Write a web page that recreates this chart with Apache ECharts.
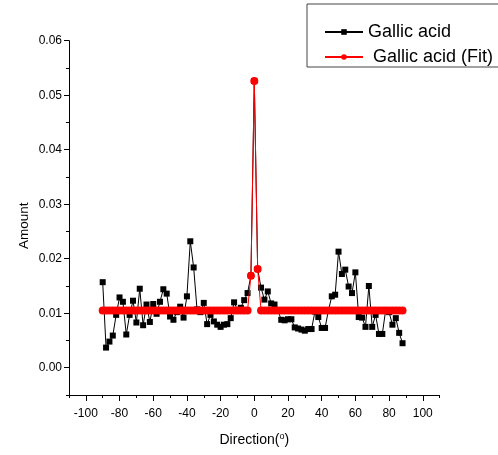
<!DOCTYPE html>
<html>
<head>
<meta charset="utf-8">
<script src="https://cdn.jsdelivr.net/npm/echarts@6/dist/echarts.min.js"></script>
<style>
  html, body { margin: 0; padding: 0; background: #fff; }
  #chart { width: 498px; height: 455px; }
</style>
</head>
<body>
<div id="chart"></div>
<script>
// Direction bins (degrees)
const directions = [
  -90, -88, -86, -84, -82, -80, -78, -76, -74, -72,
  -70, -68, -66, -64, -62, -60, -58, -56, -54, -52,
  -50, -48, -46, -44, -42, -40, -38, -36, -34, -32,
  -30, -28, -26, -24, -22, -20, -18, -16, -14, -12,
  -10, -8, -6, -4, -2, 0, 2, 4, 6, 8,
  10, 12, 14, 16, 18, 20, 22, 24, 26, 28,
  30, 32, 34, 36, 38, 40, 42, 44, 46, 48,
  50, 52, 54, 56, 58, 60, 62, 64, 66, 68,
  70, 72, 74, 76, 78, 80, 82, 84, 86, 88
];

// Measured amount per direction
const gallicAcid = [
  0.0157, 0.0037, 0.0048, 0.0059, 0.0097, 0.0129, 0.0121, 0.0061, 0.0097, 0.0123,
  0.0083, 0.0145, 0.0078, 0.0116, 0.0084, 0.0117, 0.0099, 0.0121, 0.0144, 0.0136,
  0.0094, 0.0088, 0.0102, 0.0112, 0.0092, 0.0131, 0.0232, 0.0184, 0.0107, 0.0102,
  0.0119, 0.0080, 0.0097, 0.0085, 0.0079, 0.0075, 0.0079, 0.0080, 0.0091, 0.0120,
  0.0106, 0.0110, 0.0124, 0.0137, 0.0169, 0.0526, 0.0181, 0.0147, 0.0125, 0.0140,
  0.0118, 0.0116, 0.0105, 0.0088, 0.0087, 0.0089, 0.0089, 0.0074, 0.0072, 0.0070,
  0.0068, 0.0071, 0.0071, 0.0103, 0.0093, 0.0073, 0.0073, 0.0105, 0.0131, 0.0134,
  0.0213, 0.0172, 0.0180, 0.0149, 0.0137, 0.0175, 0.0093, 0.0092, 0.0075, 0.0150,
  0.0075, 0.0097, 0.0062, 0.0062, 0.0106, 0.0102, 0.0079, 0.0091, 0.0064, 0.0045
];

// Fitted amount per direction
const gallicAcidFit = [
  0.0105, 0.0105, 0.0105, 0.0105, 0.0105, 0.0105, 0.0105, 0.0105, 0.0105, 0.0105,
  0.0105, 0.0105, 0.0105, 0.0105, 0.0105, 0.0105, 0.0105, 0.0105, 0.0105, 0.0105,
  0.0105, 0.0105, 0.0105, 0.0105, 0.0105, 0.0105, 0.0105, 0.0105, 0.0105, 0.0105,
  0.0105, 0.0105, 0.0105, 0.0105, 0.0105, 0.0105, 0.0105, 0.0105, 0.0105, 0.0105,
  0.0105, 0.0105, 0.0105, 0.0105, 0.0169, 0.0526, 0.0181, 0.0105, 0.0105, 0.0105,
  0.0105, 0.0105, 0.0105, 0.0105, 0.0105, 0.0105, 0.0105, 0.0105, 0.0105, 0.0105,
  0.0105, 0.0105, 0.0105, 0.0105, 0.0105, 0.0105, 0.0105, 0.0105, 0.0105, 0.0105,
  0.0105, 0.0105, 0.0105, 0.0105, 0.0105, 0.0105, 0.0105, 0.0105, 0.0105, 0.0105,
  0.0105, 0.0105, 0.0105, 0.0105, 0.0105, 0.0105, 0.0105, 0.0105, 0.0105, 0.0105
];

const xTickLabels = [-100, -80, -60, -40, -20, 0, 20, 40, 60, 80, 100];
const yTickLabels = [0.00, 0.01, 0.02, 0.03, 0.04, 0.05, 0.06];

const seriesNames = ['Gallic acid', 'Gallic acid (Fit)'];

const FONT = "'Liberation Sans', Arial, sans-serif";
const X_MIN = -110, X_MAX = 110;
const Y_MIN = -0.005, Y_MAX = 0.06;

const chart = echarts.init(document.getElementById('chart'), null, { renderer: 'canvas' });

const pairs = (ys) => directions.map((d, i) => [d, ys[i]]);

const option = {
  animation: false,
  backgroundColor: '#fff',
  grid: { left: 69, right: 58.4, top: 40.7, bottom: 60 },
  legend: {
    orient: 'vertical',
    left: 307,
    top: 4,
    padding: [18.5, 10, 0.5, 17],
    itemWidth: 38,
    itemHeight: 7,
    itemGap: 6,
    backgroundColor: '#fff',
    borderColor: '#444',
    borderWidth: 1,
    borderRadius: 0,
    data: seriesNames,
    textStyle: { fontFamily: FONT, fontSize: 18, color: '#000', lineHeight: 19 },
    formatter: (name) => (name === seriesNames[1] ? ' ' + name : name)
  },
  xAxis: [
    {
      type: 'value',
      min: X_MIN,
      max: X_MAX,
      interval: 10,
      name: 'Direction({sup|o})',
      nameLocation: 'middle',
      nameGap: 37,
      nameMoveOverlap: false,
      nameTextStyle: {
        fontFamily: FONT, fontSize: 14, color: '#000',
        rich: { sup: { fontFamily: FONT, fontSize: 9, color: '#000', verticalAlign: 'top', padding: [0, 0, 8, 0] } }
      },
      axisLine: { show: true, onZero: false, lineStyle: { color: '#000', width: 1 } },
      axisTick: { show: true, inside: false, length: 6, customValues: xTickLabels, lineStyle: { color: '#000' } },
      axisLabel: {
        customValues: xTickLabels,
        margin: 13,
        fontFamily: FONT, fontSize: 12, color: '#000',
        formatter: (v) => String(v)
      },
      splitLine: { show: false }
    },
    {
      // minor ticks every 10 degrees
      type: 'value',
      min: X_MIN,
      max: X_MAX,
      interval: 10,
      position: 'bottom',
      axisLine: { show: false, onZero: false },
      axisTick: { show: true, length: 3, lineStyle: { color: '#000' } },
      axisLabel: { show: false },
      splitLine: { show: false }
    }
  ],
  yAxis: [
    {
      type: 'value',
      min: Y_MIN,
      max: Y_MAX,
      interval: 0.005,
      name: 'Amount',
      nameLocation: 'middle',
      nameGap: 38,
      nameMoveOverlap: false,
      nameTextStyle: { fontFamily: FONT, fontSize: 13.5, color: '#000', padding: [0, 16, 0, 0] },
      axisLine: { show: true, onZero: false, lineStyle: { color: '#000', width: 1 } },
      axisTick: { show: true, inside: false, length: 5, customValues: yTickLabels, lineStyle: { color: '#000' } },
      axisLabel: {
        customValues: yTickLabels,
        margin: 7,
        fontFamily: FONT, fontSize: 12, color: '#000',
        formatter: (v) => v.toFixed(2)
      },
      splitLine: { show: false }
    },
    {
      // minor ticks every 0.005
      type: 'value',
      min: Y_MIN,
      max: Y_MAX,
      interval: 0.005,
      position: 'left',
      axisLine: { show: false, onZero: false },
      axisTick: { show: true, length: 3, lineStyle: { color: '#000' } },
      axisLabel: { show: false },
      splitLine: { show: false }
    }
  ],
  series: [
    {
      name: seriesNames[0],
      type: 'line',
      data: pairs(gallicAcid),
      symbol: 'rect',
      symbolSize: 6,
      showAllSymbol: true,
      lineStyle: { color: '#000', width: 1 },
      itemStyle: { color: '#000' },
      z: 2
    },
    {
      name: seriesNames[1],
      type: 'line',
      data: pairs(gallicAcidFit),
      symbol: 'circle',
      symbolSize: 8,
      showAllSymbol: true,
      lineStyle: { color: '#ff0000', width: 1 },
      itemStyle: { color: '#ff0000' },
      z: 3
    }
  ]
};

chart.setOption(option);
</script>
</body>
</html>
